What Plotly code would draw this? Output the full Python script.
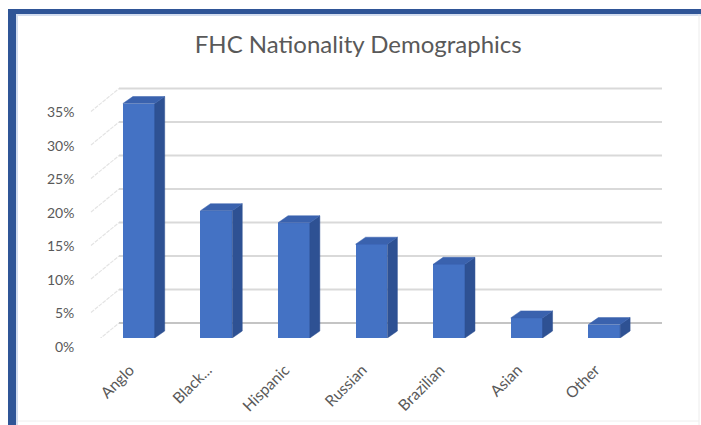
import plotly.graph_objects as go

# ---- data -------------------------------------------------------------
categories = ["Anglo", "Black...", "Hispanic", "Russian", "Brazilian", "Asian", "Other"]
shares = [35, 19, 17.2, 14, 11, 3, 2]          # percent of members
y_ticks = [0, 5, 10, 15, 20, 25, 30, 35]
y_tick_text = [f"{v}%" for v in y_ticks]

# ---- page geometry ----------------------------------------------------
W, H = 701, 425
M_L, M_R, M_T, M_B = 100, 58, 70, 87
PLOT_W = W - M_L - M_R
PLOT_H = H - M_T - M_B
X_RANGE = [-0.5, len(categories) - 0.5]
Y_RANGE = [0, 40]

BAR_W = 0.41                      # bar width in category units
DEPTH_PX = (10, 7)                # 3-D depth offset of the bars (px right, px up)
DX = DEPTH_PX[0] * (X_RANGE[1] - X_RANGE[0]) / PLOT_W
DY = DEPTH_PX[1] * (Y_RANGE[1] - Y_RANGE[0]) / PLOT_H

FRONT = "#4472C4"
SIDE = "#2E5193"
TOP = "#3A62AE"
TEXT = "#595959"
FONT = "Lato"


def px_x(px):
    """page pixel -> paper x"""
    return (px - M_L) / PLOT_W


def px_y(py):
    """page pixel (from top) -> paper y"""
    return (H - M_B - py) / PLOT_H


idx = list(range(len(categories)))

# side and top faces of the bars as filled polygons
side_x, side_y, top_x, top_y = [], [], [], []
for i, v in zip(idx, shares):
    r = i + BAR_W / 2
    l = i - BAR_W / 2
    side_x += [r, r + DX, r + DX, r, r, None]
    side_y += [0, DY, v + DY, v, 0, None]
    top_x += [l, r, r + DX, l + DX, l, None]
    top_y += [v, v, v + DY, v + DY, v, None]

fig = go.Figure()
fig.add_trace(go.Bar(
    x=idx, y=shares, width=BAR_W,
    marker=dict(color=FRONT, line=dict(width=0)),
    hovertemplate="%{text}: %{y}%<extra></extra>", text=categories,
    textposition="none",
))
fig.add_trace(go.Scatter(
    x=side_x, y=side_y, mode="lines", fill="toself", fillcolor=SIDE,
    line=dict(width=0.5, color=SIDE), hoverinfo="skip",
))
fig.add_trace(go.Scatter(
    x=top_x, y=top_y, mode="lines", fill="toself", fillcolor=TOP,
    line=dict(width=0.5, color=TOP), hoverinfo="skip",
))

shapes = []
# back-wall gridlines and the slanted side-wall lines
for v in y_ticks:
    shapes.append(dict(
        type="line", layer="below", xref="paper", yref="y",
        x0=px_x(119), x1=px_x(662),
        ysizemode="pixel", yanchor=v, y0=15, y1=15,
        line=dict(color="#c4c4c4" if v == 0 else "#d9d9d9", width=2),
    ))
    shapes.append(dict(
        type="line", layer="below", xref="paper", yref="y",
        xsizemode="pixel", xanchor=px_x(91), x0=0, x1=28,
        ysizemode="pixel", yanchor=v, y0=-8, y1=15,
        line=dict(color="#e4e4e4", width=1.2, dash="4px,1px"),
    ))

# chart frame
FRAME = "#2F5597"
shapes += [
    dict(type="rect", xref="paper", yref="paper", layer="above",
         x0=px_x(8), x1=px_x(W + 2), y0=px_y(14), y1=px_y(9),
         fillcolor=FRAME, line=dict(width=0)),
    dict(type="rect", xref="paper", yref="paper", layer="above",
         x0=px_x(8), x1=px_x(16), y0=px_y(H + 2), y1=px_y(9),
         fillcolor=FRAME, line=dict(width=0)),
    dict(type="rect", xref="paper", yref="paper", layer="above",
         x0=px_x(16), x1=px_x(W + 2), y0=px_y(16), y1=px_y(14),
         fillcolor="#d3ddef", line=dict(width=0)),
    dict(type="rect", xref="paper", yref="paper", layer="above",
         x0=px_x(16), x1=px_x(18), y0=px_y(H + 2), y1=px_y(14),
         fillcolor="#d3ddef", line=dict(width=0)),
    dict(type="line", xref="paper", yref="paper", layer="above",
         x0=px_x(699), x1=px_x(699), y0=px_y(H), y1=px_y(14),
         line=dict(color="#ececec", width=1)),
    dict(type="line", xref="paper", yref="paper", layer="above",
         x0=px_x(18), x1=px_x(699), y0=px_y(421), y1=px_y(421),
         line=dict(color="#eeeeee", width=1)),
]

# percentage labels along the front edge of the side wall
annotations = [
    dict(text=t, x=px_x(76), xref="paper", xanchor="right",
         y=v, yref="y", yshift=-8, yanchor="middle", showarrow=False,
         font=dict(family=FONT, size=14, color=TEXT))
    for v, t in zip(y_ticks, y_tick_text)
]

fig.update_layout(
    width=W, height=H,
    margin=dict(l=M_L, r=M_R, t=M_T, b=M_B, autoexpand=False),
    paper_bgcolor="white", plot_bgcolor="rgba(0,0,0,0)",
    showlegend=False,
    title=dict(text="FHC Nationality Demographics", x=0.511, xanchor="center",
               y=1 - 45 / H, yanchor="middle",
               font=dict(family=FONT, size=24, color=TEXT)),
    xaxis=dict(range=X_RANGE, tickvals=idx, ticktext=categories, tickangle=-45,
               showgrid=False, zeroline=False, showline=False, ticks="",
               ticklabelstandoff=19, ticklabelshift=-9, automargin=False,
               tickfont=dict(family=FONT, size=15.5, color=TEXT),
               fixedrange=True),
    yaxis=dict(range=Y_RANGE, showgrid=False, zeroline=False, showline=False,
               showticklabels=False, ticks="", fixedrange=True, automargin=False),
    shapes=shapes,
    annotations=annotations,
    bargap=0,
)

fig.write_html("out.html")
